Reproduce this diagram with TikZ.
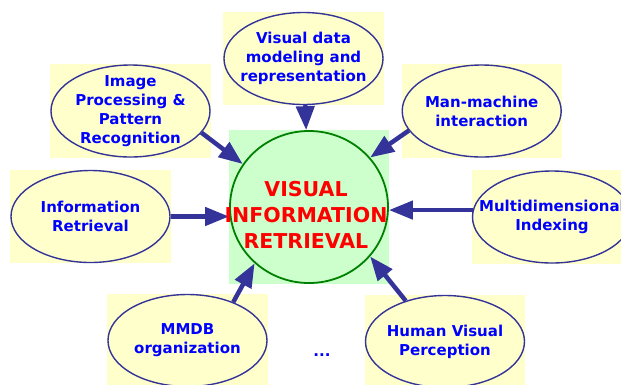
\documentclass[tikz,border=0pt]{standalone}
\usepackage{fontspec}
\setmainfont{DejaVu Sans}
\usetikzlibrary{shapes.geometric,arrows.meta,backgrounds}
\definecolor{navy}{HTML}{333399}
\definecolor{topicblue}{HTML}{0000FF}
\definecolor{paleyellow}{HTML}{FFFFCC}
\definecolor{palegreen}{HTML}{CCFFCC}
\definecolor{darkgreen}{HTML}{008000}
\tikzset{
  topic/.style={ellipse,draw=navy,line width=1.4pt,fill=paleyellow,
    minimum width=159pt,minimum height=92pt,inner xsep=-22pt,inner ysep=-12pt,
    align=center,text=topicblue,font=\bfseries\fontsize{15}{19}\selectfont},
  hub/.style={ellipse,draw=darkgreen,line width=1.8pt,
    minimum width=158pt,minimum height=152pt,inner sep=0pt},
  feed/.style={draw=navy,line width=4.5pt,-{Triangle[length=24pt,width=18pt]}}
}
\begin{document}
\begin{tikzpicture}[x=1pt,y=-1pt]
\useasboundingbox (0,0) rectangle (621,384);
\node[hub] (vir) at (309,207) {};
\node[topic] (vd) at (303.5,58.5) {Visual data\\modeling and\\representation};
\node[topic] (ip) at (130.5,111) {Image\\Processing \&\\Pattern\\Recognition};
\node[topic] (mm) at (481.7,111) {Man-machine\\interaction};
\node[topic] (ir) at (90.5,216.5) {Information\\Retrieval};
\node[topic] (md) at (552,217) {Multidimensional\\Indexing};
\node[topic] (db) at (187.5,340.5) {MMDB\\organization};
\node[topic] (hv) at (445,341.5) {Human Visual\\Perception};
\node[text=topicblue,font=\bfseries\fontsize{15}{19}\selectfont] (more) at (322,355) {...};
% pale panels behind the nodes
\begin{scope}[on background layer]
\fill[palegreen] (vir.west |- vir.north) rectangle (vir.east |- vir.south);
\foreach \n in {vd,ip,mm,ir,md,db,hv}
  \fill[paleyellow] (\n.west |- \n.north) rectangle (\n.east |- \n.south);
\end{scope}
\draw[feed] (vd) -- (vir);
\draw[feed] (ip.-17) -- (vir.147);
\draw[feed] (mm.195) -- (vir.39);
\draw[feed] (ir) -- (ir -| vir.west);
\draw[feed] (md.175) -- (md.175 -| vir.east);
\draw[feed] (db.40) -- (vir.226);
\draw[feed] (hv.134) -- (vir.-39);
\node[text=red,align=center,font=\bfseries\fontsize{20.5}{26}\selectfont] (virtitle) at (306,215) {VISUAL\\INFORMATION\\RETRIEVAL};
\end{tikzpicture}
\end{document}
